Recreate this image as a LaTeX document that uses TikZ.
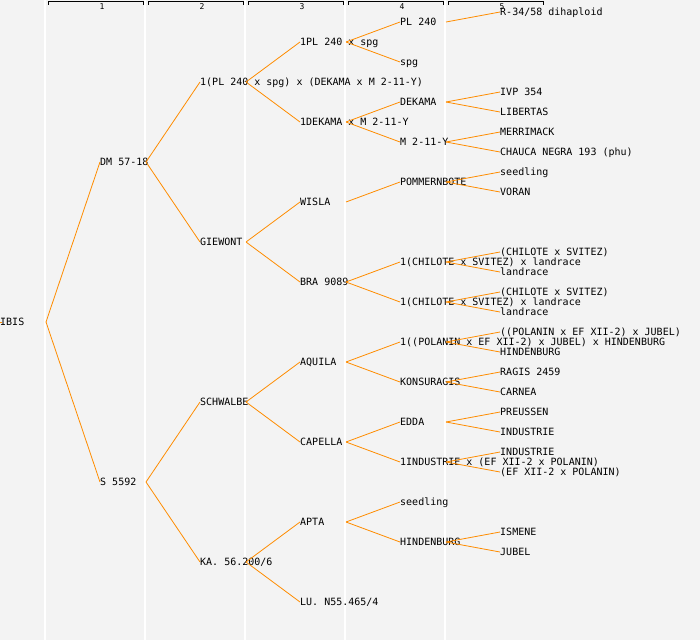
\documentclass[tikz,border=0pt]{standalone}
\usepackage{fontspec}
\newfontfamily\lbfont{DejaVu Sans Mono}
\definecolor{bgcol}{RGB}{243,243,243}
\definecolor{treeorange}{RGB}{255,140,0}
\tikzset{
  lbl/.style={anchor=west, inner sep=0pt, font=\lbfont\fontsize{10pt}{12pt}\selectfont, text height=7.3pt, text depth=0pt, text=black},
  hdr/.style={inner sep=0pt, font=\lbfont\fontsize{8pt}{9pt}\selectfont, text height=5.8pt, text depth=0pt},
  conn/.style={draw=treeorange, line width=0.8pt},
  sepline/.style={draw=white, line width=1.3pt},
  bracket/.style={draw=black, line width=0.9pt}
}
\newcommand{\cn}[2]{\draw[conn] ([xshift=46pt]#1.west) -- (#2.west);}
\begin{document}
\begin{tikzpicture}[x=1pt,y=-1pt]
\useasboundingbox (0,0) rectangle (700,640);
\fill[bgcol] (0,0) rectangle (700,640);
% column separators
\foreach \cx in {45,145,245,345,445} \draw[sepline] (\cx,0) -- (\cx,640);
% header brackets
\foreach \i/\sx in {1/48,2/148,3/248,4/348,5/448} {
  \draw[bracket] (\sx,4.5) -- (\sx,1.5) -- (\sx+95,1.5) -- (\sx+95,4.5);
  \node[hdr] (h\i) at (\sx+54,6.5) {\i};
}
% generation 0
\node[lbl] (r) at (0,322) {IBIS};
\coordinate (rin) at (1.5,322);
\draw[conn] (r.west) -- (rin);
% generation 1
\node[lbl] (a) at (100,162) {DM 57-18};
\node[lbl] (b) at (100,482) {S 5592};
% generation 2
\node[lbl] (aa) at (200,82) {1(PL 240 x spg) x (DEKAMA x M 2-11-Y)};
\node[lbl] (ab) at (200,242) {GIEWONT};
\node[lbl] (ba) at (200,402) {SCHWALBE};
\node[lbl] (bb) at (200,562) {KA. 56.200/6};
% generation 3
\node[lbl] (aaa) at (300,42) {1PL 240 x spg};
\node[lbl] (aab) at (300,122) {1DEKAMA x M 2-11-Y};
\node[lbl] (aba) at (300,202) {WISLA};
\node[lbl] (abb) at (300,282) {BRA 9089};
\node[lbl] (baa) at (300,362) {AQUILA};
\node[lbl] (bab) at (300,442) {CAPELLA};
\node[lbl] (bba) at (300,522) {APTA};
\node[lbl] (bbb) at (300,602) {LU. N55.465/4};
% generation 4
\node[lbl] (aaaa) at (400,22) {PL 240};
\node[lbl] (aaab) at (400,62) {spg};
\node[lbl] (aaba) at (400,102) {DEKAMA};
\node[lbl] (aabb) at (400,142) {M 2-11-Y};
\node[lbl] (abaa) at (400,182) {POMMERNBOTE};
\node[lbl] (abba) at (400,262) {1(CHILOTE x SVITEZ) x landrace};
\node[lbl] (abbb) at (400,302) {1(CHILOTE x SVITEZ) x landrace};
\node[lbl] (baaa) at (400,342) {1((POLANIN x EF XII-2) x JUBEL) x HINDENBURG};
\node[lbl] (baab) at (400,382) {KONSURAGIS};
\node[lbl] (baba) at (400,422) {EDDA};
\node[lbl] (babb) at (400,462) {1INDUSTRIE x (EF XII-2 x POLANIN)};
\node[lbl] (bbaa) at (400,502) {seedling};
\node[lbl] (bbab) at (400,542) {HINDENBURG};
% generation 5
\node[lbl] (g1) at (500,12) {R-34/58 dihaploid};
\node[lbl] (g5) at (500,92) {IVP 354};
\node[lbl] (g6) at (500,112) {LIBERTAS};
\node[lbl] (g7) at (500,132) {MERRIMACK};
\node[lbl] (g8) at (500,152) {CHAUCA NEGRA 193 (phu)};
\node[lbl] (g9) at (500,172) {seedling};
\node[lbl] (g10) at (500,192) {VORAN};
\node[lbl] (g13) at (500,252) {(CHILOTE x SVITEZ)};
\node[lbl] (g14) at (500,272) {landrace};
\node[lbl] (g15) at (500,292) {(CHILOTE x SVITEZ)};
\node[lbl] (g16) at (500,312) {landrace};
\node[lbl] (g17) at (500,332) {((POLANIN x EF XII-2) x JUBEL)};
\node[lbl] (g18) at (500,352) {HINDENBURG};
\node[lbl] (g19) at (500,372) {RAGIS 2459};
\node[lbl] (g20) at (500,392) {CARNEA};
\node[lbl] (g21) at (500,412) {PREUSSEN};
\node[lbl] (g22) at (500,432) {INDUSTRIE};
\node[lbl] (g23) at (500,452) {INDUSTRIE};
\node[lbl] (g24) at (500,472) {(EF XII-2 x POLANIN)};
\node[lbl] (g27) at (500,532) {ISMENE};
\node[lbl] (g28) at (500,552) {JUBEL};
% connectors
\cn{r}{a} \cn{r}{b}
\cn{a}{aa} \cn{a}{ab} \cn{b}{ba} \cn{b}{bb}
\cn{aa}{aaa} \cn{aa}{aab} \cn{ab}{aba} \cn{ab}{abb}
\cn{ba}{baa} \cn{ba}{bab} \cn{bb}{bba} \cn{bb}{bbb}
\cn{aaa}{aaaa} \cn{aaa}{aaab} \cn{aab}{aaba} \cn{aab}{aabb}
\cn{aba}{abaa} \cn{abb}{abba} \cn{abb}{abbb}
\cn{baa}{baaa} \cn{baa}{baab} \cn{bab}{baba} \cn{bab}{babb}
\cn{bba}{bbaa} \cn{bba}{bbab}
\cn{aaaa}{g1}
\cn{aaba}{g5} \cn{aaba}{g6} \cn{aabb}{g7} \cn{aabb}{g8}
\cn{abaa}{g9} \cn{abaa}{g10}
\cn{abba}{g13} \cn{abba}{g14} \cn{abbb}{g15} \cn{abbb}{g16}
\cn{baaa}{g17} \cn{baaa}{g18} \cn{baab}{g19} \cn{baab}{g20}
\cn{baba}{g21} \cn{baba}{g22} \cn{babb}{g23} \cn{babb}{g24}
\cn{bbab}{g27} \cn{bbab}{g28}
\end{tikzpicture}
\end{document}
